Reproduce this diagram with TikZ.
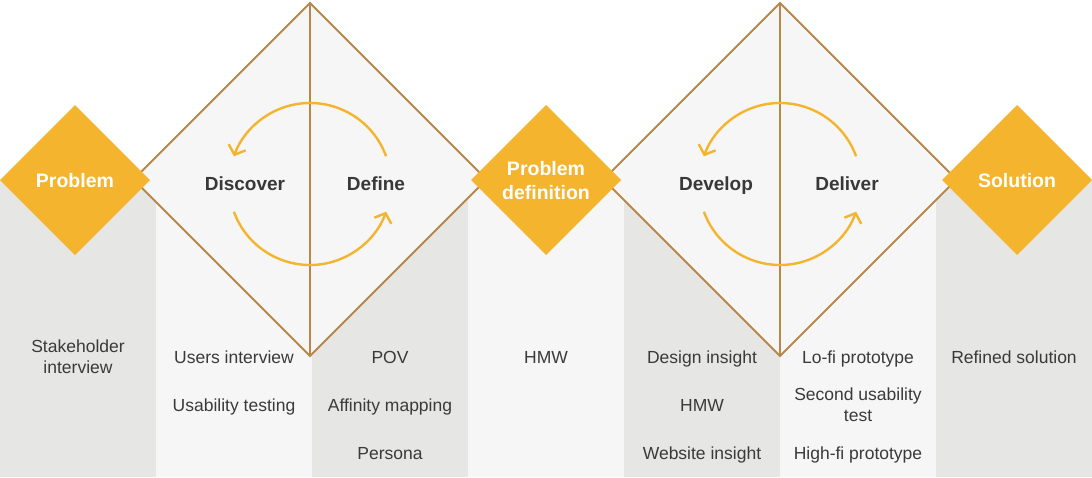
\documentclass[tikz,border=0pt]{standalone}
\usepackage{fontspec}
\setmainfont{Liberation Sans}
\newcommand\ylabfont{\bfseries\fontsize{19.5}{24}\selectfont}
\newcommand\phasefont{\bfseries\fontsize{19}{23}\selectfont}
\usetikzlibrary{arrows.meta,calc}
\definecolor{yel}{HTML}{F4B42E}
\definecolor{brn}{HTML}{B8884A}
\definecolor{gcol}{HTML}{E6E6E5}
\definecolor{lcol}{HTML}{F6F6F6}
\definecolor{txt}{HTML}{3A3A3A}
\definecolor{ttl}{HTML}{383838}
\tikzset{
  bigdia/.style={draw=brn, line width=2pt, fill=lcol, line join=miter},
  midline/.style={draw=brn, line width=2pt},
  cyc/.style={draw=yel, line width=2.4pt, -{Straight Barb[length=8pt,width=18pt,line width=2.4pt]}},
  ylab/.style={text=white, font=\ylabfont, align=center, inner sep=0pt, anchor=base},
  phase/.style={text=ttl, font=\phasefont, inner sep=0pt, anchor=base},
  item/.style={text=txt, font=\fontsize{17.5}{20.5}\selectfont, align=center, inner sep=0pt, anchor=base},
}
\begin{document}
\begin{tikzpicture}[x=1pt,y=1pt]
\useasboundingbox (0,0) rectangle (1092,-477);
\fill[white] (0,0) rectangle (1092,-477);
% columns
\fill[gcol] (0,-180) rectangle (156,-477);
\fill[lcol] (156,-180) rectangle (312,-477);
\fill[gcol] (312,-180) rectangle (468,-477);
\fill[lcol] (468,-180) rectangle (624,-477);
\fill[gcol] (624,-180) rectangle (780,-477);
\fill[lcol] (780,-180) rectangle (936,-477);
\fill[gcol] (936,-180) rectangle (1092,-477);
% big diamonds
\coordinate (c1) at (310,-179.5);
\coordinate (c2) at (780,-179.5);
\foreach \c in {c1,c2}{
  \path[bigdia] ($(\c)+(-176.5,0)$) -- ($(\c)+(0,176.5)$) -- ($(\c)+(176.5,0)$) -- ($(\c)+(0,-176.5)$) -- cycle;
  \draw[midline] ($(\c)+(0,176.5)$) -- ($(\c)+(0,-176.5)$);
}
% cycle arrows
\coordinate (o1) at (310,-184);
\coordinate (o2) at (780,-184);
\foreach \o in {o1,o2}{
  \draw[cyc] ($(\o)+(20:81pt)$) arc[start angle=20,end angle=160,radius=81pt];
  \draw[cyc] ($(\o)+(200:81pt)$) arc[start angle=200,end angle=340,radius=81pt];
}
% yellow diamonds
\foreach \x in {75,546,1017}{
  \fill[yel] (\x-75,-180) -- (\x,-105) -- (\x+75,-180) -- (\x,-255) -- cycle;
}
\node[ylab] (problem) at (75,-187) {Problem};
\node[ylab] (probdef) at (546,-199) {Problem\\definition};
\node[ylab] (solution) at (1017,-187) {Solution};
% phase labels
\node[phase] (discover) at (245,-190) {Discover};
\node[phase] (define) at (376,-190) {Define};
\node[phase] (develop) at (716,-190) {Develop};
\node[phase] (deliver) at (847,-190) {Deliver};
% items
\node[item] (i1) at (78,-373) {Stakeholder\\interview};
\node[item] (i2) at (234,-363) {Users interview};
\node[item] (i3) at (234,-411) {Usability testing};
\node[item] (i4) at (390,-363) {POV};
\node[item] (i5) at (390,-411) {Affinity mapping};
\node[item] (i6) at (390,-459) {Persona};
\node[item] (i7) at (546,-363) {HMW};
\node[item] (i8) at (702,-363) {Design insight};
\node[item] (i9) at (702,-411) {HMW};
\node[item] (i10) at (702,-459) {Website insight};
\node[item] (i11) at (858,-363) {Lo-fi prototype};
\node[item] (i12) at (858,-421) {Second usability\\test};
\node[item] (i13) at (858,-459) {High-fi prototype};
\node[item] (i14) at (1014,-363) {Refined solution};
\end{tikzpicture}
\end{document}
